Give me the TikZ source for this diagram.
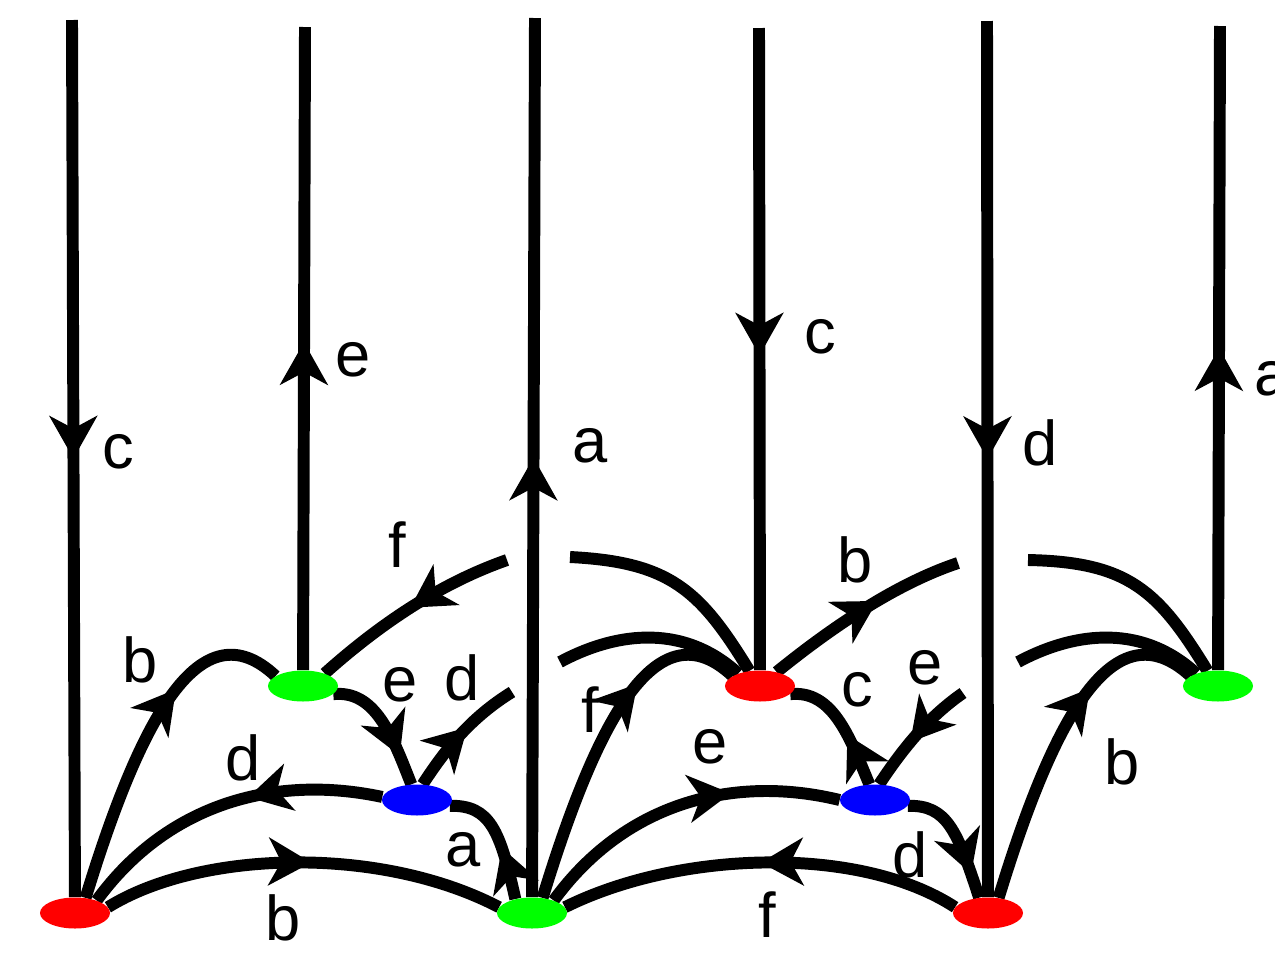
\documentclass[tikz,border=0pt]{standalone}
\usepackage{fontspec}
\setmainfont{Liberation Sans}
\usetikzlibrary{arrows.meta, shapes.geometric, decorations.markings, backgrounds}

\tikzset{
  vert/.style={ellipse, minimum width=1.4cm, minimum height=0.62cm, inner sep=0pt},
  redv/.style={vert, fill=red},
  greenv/.style={vert, fill=green},
  bluev/.style={vert, fill=blue},
  strand/.style={line width=6.8pt},
  midarr/.style={strand, postaction={decorate},
    decoration={markings, mark=at position #1 with
      {\arrow{Stealth[length=0.85cm, width=0.95cm, inset=0.25cm]}}}},
  lbl/.style={font=\fontsize{36}{40}\selectfont, inner sep=0pt},
}

\begin{document}
\begin{tikzpicture}[x=0.02cm, y=-0.02cm]
  \useasboundingbox (0,0) rectangle (1275,971);

  % vertices
  \node[redv]   (r1) at (75,913)   {};
  \node[greenv] (g1) at (532,913)  {};
  \node[redv]   (r2) at (988,913)  {};
  \node[greenv] (g2) at (303,686)  {};
  \node[redv]   (r3) at (760,686)  {};
  \node[greenv] (g3) at (1218,686) {};
  \node[bluev]  (b1) at (417,800)  {};
  \node[bluev]  (b2) at (875,800)  {};

  % open ends: tops of the long strands, and the cuts where strands pass under
  \coordinate (t1) at (72,20);
  \coordinate (t2) at (305,27);
  \coordinate (t3) at (535,18);
  \coordinate (t4) at (759,28);
  \coordinate (t5) at (987,21);
  \coordinate (t6) at (1220,26);
  \coordinate (cf) at (507,560);
  \coordinate (cd) at (512,692);
  \coordinate (cb) at (958,563);
  \coordinate (ce) at (963,693);
  \coordinate (wf) at (570,557);
  \coordinate (wd) at (560,662);
  \coordinate (wb) at (1028,560);
  \coordinate (we) at (1018,662);

  \begin{scope}[on background layer]
    % long strands
    \draw[midarr=0.5] (t1) -- (r1);
    \draw[midarr=0.51] (g2) -- (t2);
    \draw[midarr=0.5] (g1) -- (t3);
    \draw[midarr=0.51] (t4) -- (r3);
    \draw[midarr=0.5] (t5) -- (r2);
    \draw[midarr=0.5] (g3) -- (t6);

    % left cell
    \draw[midarr=0.52] (r1.10) .. controls (200,850) and (380,845) .. (g1.170);
    \draw[midarr=0.42] (b1.175) .. controls (280,775) and (170,800) .. (r1.30);
    \draw[midarr=0.66] (r1.55) .. controls (140,720) and (200,605) .. (g2.160);
    \draw[midarr=0.76] (g2.-15) .. controls (375,690) and (392,735) .. (b1.110);
    \draw[midarr=0.56] (b1.70) .. controls (445,750) and (470,718) .. (cd);
    \draw[midarr=0.42] (g1.140) .. controls (500,830) and (490,805) .. (b1.-10);
    \draw[midarr=0.5] (cf) .. controls (450,580) and (390,615) .. (g2.30);

    % right cell
    \draw[midarr=0.5] (r2.170) .. controls (860,845) and (680,850) .. (g1.10);
    \draw[midarr=0.66] (g1.30) .. controls (627,800) and (737,775) .. (b2.180);
    \draw[midarr=0.68] (g1.55) .. controls (597,720) and (657,605) .. (r3.160);
    \draw[midarr=0.42] (b2.110) .. controls (849,735) and (832,690) .. (r3.-15);
    \draw[midarr=0.58] (ce) .. controls (927,718) and (902,750) .. (b2.75);
    \draw[midarr=0.8] (b2.-10) .. controls (947,805) and (957,830) .. (r2.120);
    \draw[midarr=0.58] (r3.40) .. controls (847,615) and (907,580) .. (cb);
    \draw[midarr=0.66] (r2.55) .. controls (1053,720) and (1113,605) .. (g3.160);

    % strands coming back out from under
    \draw[strand] (wf) .. controls (670,562) and (700,590) .. (r3.125);
    \draw[strand] (wd) .. controls (610,635) and (680,620) .. (r3.150);
    \draw[strand] (wb) .. controls (1128,562) and (1158,590) .. (g3.125);
    \draw[strand] (we) .. controls (1068,635) and (1138,620) .. (g3.150);
  \end{scope}

  % labels
  \node[lbl] (l1)  at (118,452)  {c};
  \node[lbl] (l2)  at (353,360)  {e};
  \node[lbl] (l3)  at (590,446)  {a};
  \node[lbl] (l4)  at (820,337)  {c};
  \node[lbl] (l5)  at (1040,443) {d};
  \node[lbl] (l6)  at (1272,379) {a};
  \node[lbl] (l7)  at (397,545)  {f};
  \node[lbl] (l8)  at (140,660)  {b};
  \node[lbl] (l9)  at (400,685)  {e};
  \node[lbl] (l10) at (462,678)  {d};
  \node[lbl] (l11) at (243,758)  {d};
  \node[lbl] (l12) at (463,850)  {a};
  \node[lbl] (l13) at (283,918)  {b};
  \node[lbl] (l14) at (590,710)  {f};
  \node[lbl] (l15) at (710,747)  {e};
  \node[lbl] (l16) at (855,560)  {b};
  \node[lbl] (l17) at (857,690)  {c};
  \node[lbl] (l18) at (925,668)  {e};
  \node[lbl] (l19) at (910,855)  {d};
  \node[lbl] (l20) at (767,915)  {f};
  \node[lbl] (l21) at (1122,762) {b};
\end{tikzpicture}
\end{document}
